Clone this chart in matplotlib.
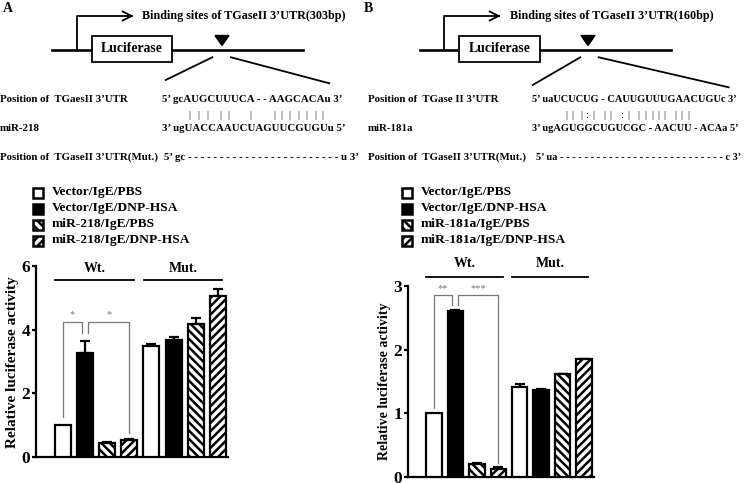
import matplotlib
matplotlib.use("Agg")
import matplotlib.pyplot as plt
from matplotlib.patches import Rectangle, Polygon

plt.rcParams['font.family'] = ['Liberation Serif', 'DejaVu Serif']
plt.rcParams['font.weight'] = 'bold'
plt.rcParams['axes.labelweight'] = 'bold'
plt.rcParams['hatch.linewidth'] = 1.8

# ---------------- data ----------------
groups = ["Wt.", "Mut."]
legend_a = ["Vector/IgE/PBS", "Vector/IgE/DNP-HSA", "miR-218/IgE/PBS", "miR-218/IgE/DNP-HSA"]
legend_b = ["Vector/IgE/PBS", "Vector/IgE/DNP-HSA", "miR-181a/IgE/PBS", "miR-181a/IgE/DNP-HSA"]
vals_a = [1.0, 3.28, 0.44, 0.55, 3.50, 3.68, 4.20, 5.07]
err_a = [0.0, 0.37, 0.02, 0.02, 0.05, 0.08, 0.18, 0.22]
vals_b = [1.0, 2.60, 0.21, 0.13, 1.42, 1.36, 1.61, 1.85]
err_b = [0.0, 0.02, 0.01, 0.025, 0.035, 0.015, 0.01, 0.01]
yticks_a = [0, 2, 4, 6]
yticks_b = [0, 1, 2, 3]
sig_a = ["*", "*"]
sig_b = ["**", "***"]

B = 'bold'
W, H = 745, 483
fig = plt.figure(figsize=(W / 100, H / 100), dpi=100)

# overlay for schematic drawings (pixel coords)
ov = fig.add_axes([0, 0, 1, 1], zorder=0)
ov.set_xlim(0, W)
ov.set_ylim(H, 0)
ov.axis('off')

def schematic(x0, label, bp, vx, hx, tx, bl0, bl1, box0, box1, tri, l1, l2):
    ov.text(x0, 8, label, fontsize=10, ha='left', va='center', fontweight=B)
    ov.plot([bl0, bl1], [50, 50], color='black', lw=1.9)
    ov.plot([vx, vx, hx], [50, 16, 16], color='black', lw=1.3)
    ov.plot([hx - 9, hx, hx - 9], [11.5, 16, 20.5], color='black', lw=1.3)
    ov.text(tx, 16.5, "Binding sites of TGaseII 3\u2019UTR(%s)" % bp, fontsize=8.7,
            ha='left', va='center', fontweight=B)
    ov.add_patch(Rectangle((box0, 35.5), box1 - box0, 26, facecolor='white',
                           edgecolor='black', lw=1.3, zorder=3))
    ov.text((box0 + box1) / 2, 48.5, "Luciferase", fontsize=9.9, ha='center',
            va='center', zorder=4, fontweight=B)
    ov.add_patch(Polygon([[tri - 7, 35.5], [tri + 7, 35.5], [tri, 45.5]],
                         closed=True, color='black'))
    ov.plot(l1[0], l1[1], color='black', lw=1.3)
    ov.plot(l2[0], l2[1], color='black', lw=1.3)

schematic(3, "A", "303bp", 76.7, 131.7, 141.7, 52, 303, 91.7, 172.3, 222,
          ([212.3, 165.7], [57.3, 80]), ([231, 329.3], [57.3, 83.3]))
schematic(364, "B", "160bp", 443.7, 498.7, 509.7, 419.7, 671.3, 459.3, 540.3, 588,
          ([580.3, 532.7], [57.3, 85]), ([598.7, 728.7], [57.3, 87.3]))

# sequence rows
fs_lab, fs_seq, fs_seq_b = 7.8, 7.8, 7.45
ov.text(0, 100, "Position of  TGaesII 3\u2019UTR", fontsize=fs_lab, va='center', fontweight=B)
ov.text(0, 128.5, "miR-218", fontsize=fs_lab, va='center', fontweight=B)
ov.text(0, 157, "Position of  TGaseII 3\u2019UTR(Mut.)", fontsize=fs_lab, va='center', fontweight=B)
ov.text(161.7, 100, "5\u2019 gcAUGCUUUCA - - AAGCACAu 3\u2019", fontsize=fs_seq, va='center', fontweight=B)
ov.text(161.7, 128.5, "3\u2019 ugUACCAAUCUAGUUCGUGUu 5\u2019", fontsize=fs_seq, va='center', fontweight=B)
ov.text(163.5, 157, "5\u2019 gc " + "- " * 24 + "u 3\u2019", fontsize=fs_seq, va='center', fontweight=B)
pipes_a = [189.3, 198.3, 207.3, 220.7, 228.3, 250.7, 274, 281.7, 289.3, 298.3, 306.7, 315, 322.7]
for px in pipes_a:
    ov.text(px, 116, "|", fontsize=7.5, ha='center', va='center', fontweight='normal')

ov.text(368, 100, "Position of  TGase II 3\u2019UTR", fontsize=fs_lab, va='center', fontweight=B)
ov.text(368, 128.5, "miR-181a", fontsize=fs_lab, va='center', fontweight=B)
ov.text(368, 157, "Position of  TGaseII 3\u2019UTR(Mut.)", fontsize=fs_lab, va='center', fontweight=B)
ov.text(532, 100, "5\u2019 uaUCUCUG - CAUUGUUUGAACUGUc 3\u2019", fontsize=fs_seq_b, va='center', fontweight=B)
ov.text(532, 128.5, "3\u2019 ugAGUGGCUGUCGC - AACUU - ACAa 5\u2019", fontsize=fs_seq_b, va='center', fontweight=B)
ov.text(536, 157, "5\u2019 ua " + "- " * 27 + "c 3\u2019", fontsize=fs_seq_b, va='center', fontweight=B)
pipes_b = [(566, '|'), (572, '|'), (581.3, '|'), (587, ':'), (593, '|'), (604.3, '|'),
           (610.3, '|'), (622, ':'), (628, '|'), (638.7, '|'), (645.3, '|'), (652, '|'),
           (658, '|'), (664.7, '|'), (675.3, '|'), (681.3, '|'), (688, '|')]
for px, ch in pipes_b:
    ov.text(px, 116, ch, fontsize=7.5, ha='center', va='center', fontweight='normal')

# legends (manual, pixel coords)
styles = [dict(facecolor='white', hatch=None), dict(facecolor='black', hatch=None),
          dict(facecolor='white', hatch='\\\\\\\\'), dict(facecolor='white', hatch='////')]

def legend(x, labels, tx):
    for i, lab in enumerate(labels):
        yc = 192.5 + 16 * i
        st = styles[i]
        ov.add_patch(Rectangle((x, yc - 5), 10, 10, facecolor=st['facecolor'],
                               hatch=st['hatch'], edgecolor='black', lw=1.8))
        ov.text(tx, yc, lab, fontsize=9.7, va='center', ha='left', fontweight=B)

legend(33.3, legend_a, 51.7)
legend(402, legend_b, 420.7)

# ---------------- bar charts ----------------
def bar_panel(rect, vals, errs, yticks, sigs, top_line, text_y, brk, ylab_fs):
    ax = fig.add_axes(rect, zorder=2)
    ax.patch.set_alpha(0)
    for i, (v, e) in enumerate(zip(vals, errs)):
        st = styles[i % 4]
        ax.bar(i, v, width=0.72, facecolor=st['facecolor'], hatch=st['hatch'],
               edgecolor='black', linewidth=1.6, zorder=3)
        if e > 0:
            ax.errorbar(i, v, yerr=[[0], [e]], fmt='none', ecolor='black',
                        elinewidth=1.6, capsize=3.4, capthick=1.6, zorder=2)
    ax.set_xlim(-1.22, 7.45)
    ax.set_ylim(0, yticks[-1])
    ax.set_yticks(yticks)
    ax.set_yticklabels([str(t) for t in yticks], fontweight=B, fontsize=12.5)
    ax.set_xticks([])
    ax.spines['top'].set_visible(False)
    ax.spines['right'].set_visible(False)
    for s in ['left', 'bottom']:
        ax.spines[s].set_linewidth(1.6)
    ax.tick_params(axis='y', length=3, width=1.6, pad=0.8)
    ax.set_ylabel("Relative luciferase activity", fontsize=ylab_fs, labelpad=2,
                  fontweight=B)
    # group lines
    for g, (a, b) in enumerate([(0, 3), (4, 7)]):
        ax.plot([a - 0.35, b + 0.2], [top_line, top_line], color='black', lw=1.3,
                clip_on=False)
        ax.text((a + b) / 2 - 0.05, text_y, groups[g], fontsize=10, ha='center',
                va='center', clip_on=False, fontweight=B)
    # significance brackets
    top, l1, r1, l2, r2 = brk
    gray = '#777777'
    ax.plot([0, 0, 0.86, 0.86], [l1, top, top, r1], color=gray, lw=0.9, clip_on=False)
    ax.plot([1.14, 1.14, 3, 3], [r1, top, top, r2], color=gray, lw=0.9, clip_on=False)
    ax.text(0.43, top + (yticks[-1] * 0.035), sigs[0], color=gray, fontsize=7.5,
            ha='center', va='center', fontweight='normal')
    ax.text(2.07, top + (yticks[-1] * 0.035), sigs[1], color=gray, fontsize=7.5,
            ha='center', va='center', fontweight='normal')
    return ax

bar_panel([35.7 / W, 1 - 457 / H, (228 - 35.7) / W, (457 - 266.3) / H],
          vals_a, err_a, yticks_a, sig_a, 5.57, 5.92, (4.26, 1.27, 3.89, 3.89, 0.75), 11.0)
bar_panel([407.7 / W, 1 - 477 / H, (593.7 - 407.7) / W, (477 - 286) / H],
          vals_b, err_b, yticks_b, sig_b, 3.137, 3.36, (2.86, 1.08, 2.70, 2.70, 0.22), 10.0)

fig.savefig("out.png", dpi=100)
